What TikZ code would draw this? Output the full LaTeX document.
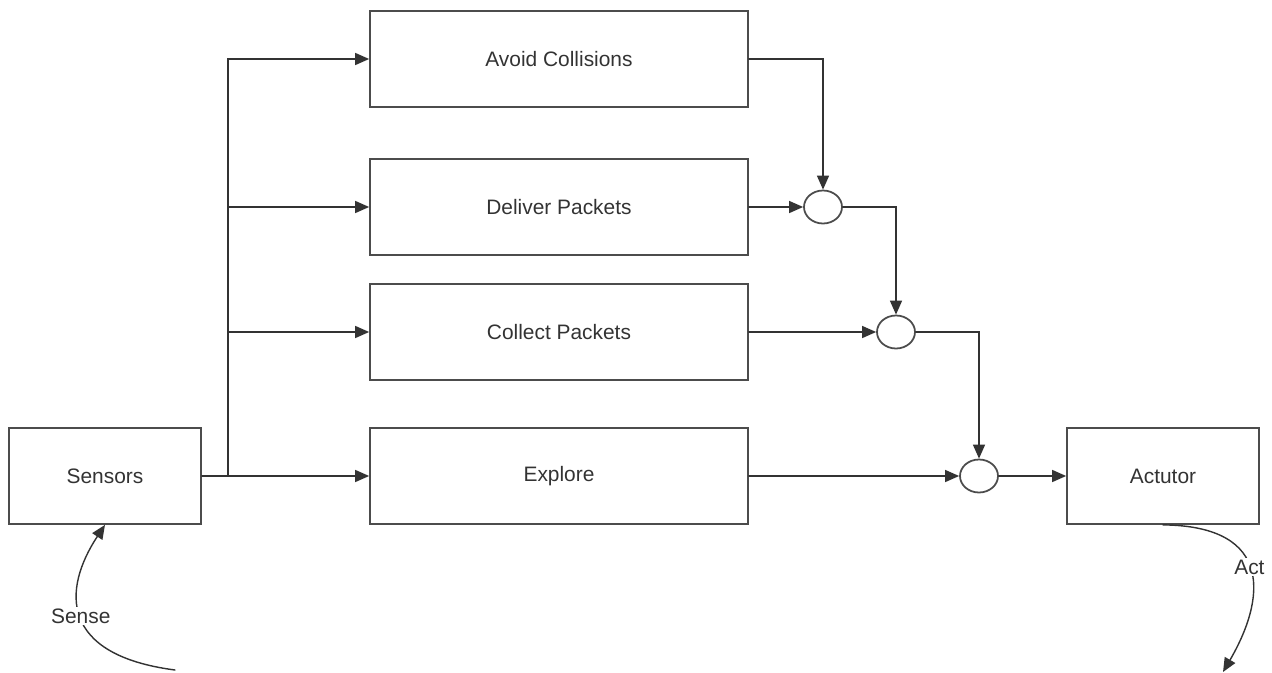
\documentclass[tikz,border=0pt]{standalone}
\usepackage{fontspec}
\setmainfont{Liberation Sans}
\usetikzlibrary{arrows.meta,shapes.geometric}

\begin{document}
\begin{tikzpicture}[x=0.02cm,y=-0.02cm,>={Triangle[length=2.8mm,width=2.4mm]},
  font=\fontsize{11.9}{14}\selectfont,line cap=round,
  link/.style={draw=black!80,line width=0.8pt,->},
  behaviour/.style={draw=black!70,line width=1pt,minimum width=7.56cm,minimum height=1.92cm,text=black!80},
  device/.style={draw=black!70,line width=1pt,minimum width=3.84cm,minimum height=1.92cm,text=black!80},
  merge/.style={ellipse,draw=black!70,line width=1pt,minimum width=0.76cm,minimum height=0.66cm,inner sep=0pt},
  flowlbl/.style={fill=white,inner sep=1pt,text=black!80}]
\useasboundingbox (0,0) rectangle (1272,673);
\node[device] (sensors) at (105,476) {Sensors};
\node[behaviour] (avoid) at (559,59) {Avoid Collisions};
\node[behaviour] (deliver) at (559,207) {Deliver Packets};
\node[behaviour] (collect) at (559,332) {Collect Packets};
\node[behaviour] (explore) at (559,476) {Explore};
\node[device] (actutor) at (1163,476) {Actutor};
\node[merge] (merge1) at (823,207) {};
\node[merge] (merge2) at (896,332) {};
\node[merge] (merge3) at (979,476) {};
\coordinate (split) at (228,476);
\coordinate (sensesrc) at (175,670);
\coordinate (actdst) at (1223,672);
\draw[link] (sensors) -- (explore);
\draw[link] (split) |- (avoid.west);
\draw[link] (split) |- (deliver.west);
\draw[link] (split) |- (collect.west);
\draw[link] (avoid.east) -| (merge1.north);
\draw[link] (deliver.east) -- (merge1.west);
\draw[link] (merge1.east) -| (merge2.north);
\draw[link] (collect.east) -- (merge2.west);
\draw[link] (merge2.east) -| (merge3.north);
\draw[link] (explore.east) -- (merge3.west);
\draw[link] (merge3.east) -- (actutor.west);
\draw[link] (sensesrc) .. controls (60,655) and (62,590) .. node[flowlbl] (senselbl) {Sense} (sensors.south);
\draw[link] (actutor.south) .. controls (1275,526) and (1265,600) .. node[flowlbl,pos=0.47] (actlbl) {Act} (actdst);
\end{tikzpicture}
\end{document}
